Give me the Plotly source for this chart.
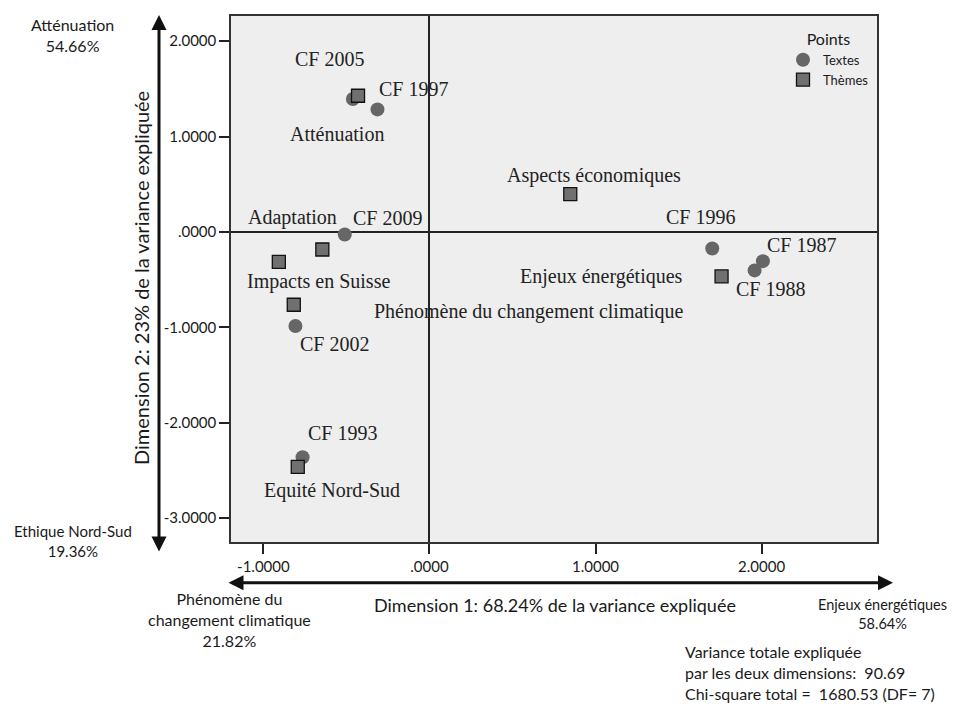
import plotly.graph_objects as go

# ── Data ──────────────────────────────────────────────────────────────────────
text_labels = ["CF 2005", "CF 1997", "CF 2009", "CF 2002", "CF 1993",
               "CF 1996", "CF 1987", "CF 1988"]
text_dim1 = [-0.461, -0.313, -0.510, -0.807, -0.764, 1.703, 2.008, 1.958]
text_dim2 = [1.394, 1.285, -0.027, -0.985, -2.362, -0.173, -0.306, -0.403]

theme_labels = ["Atténuation", "Aspects économiques", "Adaptation",
                "Impacts en Suisse", "Phénomène du changement climatique",
                "Equité Nord-Sud", "Enjeux énergétiques"]
theme_dim1 = [-0.430, 0.848, -0.645, -0.907, -0.817, -0.793, 1.759]
theme_dim2 = [1.428, 0.397, -0.184, -0.313, -0.763, -2.462, -0.466]

tick_vals_x = [-1, 0, 1, 2]
tick_text_x = ["-1.0000", ".0000", "1.0000", "2.0000"]
tick_vals_y = [2, 1, 0, -1, -2, -3]
tick_text_y = ["2.0000", "1.0000", ".0000", "-1.0000", "-2.0000", "-3.0000"]

pole_top = ["Atténuation", "54.66%"]
pole_bottom = ["Ethique Nord-Sud", "19.36%"]
pole_left = ["Phénomène du", "changement climatique", "21.82%"]
pole_right = ["Enjeux énergétiques", "58.64%"]
summary = ["Variance totale expliquée",
           "par les deux dimensions:\u00a0 90.69",
           "Chi-square total =\u00a0 1680.53 (DF= 7)"]

# label offsets in pixels (dx, dy up) relative to each point
text_offsets = [(-23, 40), (36, 20), (43, 17), (39, -18), (40, 24),
                (-12, 31), (39, 16), (16, -19)]
theme_offsets = [(-21, -38), (24, 19), (-30, 32), (40, -20), (235, -7),
                 (34, -24), (-120, 0)]

SANS = "Lato, 'Open Sans', sans-serif"
SERIF = "'Liberation Serif', 'Times New Roman', serif"
INK = "#1a1a1a"

fig = go.Figure()

fig.add_trace(go.Scatter(
    x=text_dim1, y=text_dim2, mode="markers", name="Textes",
    marker=dict(symbol="circle", size=14, color="#666666",
                line=dict(width=0)),
))
fig.add_trace(go.Scatter(
    x=theme_dim1, y=theme_dim2, mode="markers", name="Thèmes",
    marker=dict(symbol="square", size=13, color="#707070",
                line=dict(width=1.3, color="#111111")),
))

annotations = []
for lab, xv, yv, (dx, dy) in zip(text_labels, text_dim1, text_dim2, text_offsets):
    annotations.append(dict(x=xv, y=yv, text=lab, showarrow=False,
                            xshift=dx, yshift=dy,
                            font=dict(family=SERIF, size=20, color="#222222")))
for lab, xv, yv, (dx, dy) in zip(theme_labels, theme_dim1, theme_dim2, theme_offsets):
    annotations.append(dict(x=xv, y=yv, text=lab, showarrow=False,
                            xshift=dx, yshift=dy,
                            font=dict(family=SERIF, size=20, color="#222222")))

# plot area on screen: left 231, right 877, top 14, bottom 542
# (page body adds an 8 px margin, so figure coords = screen - 8)
OFF = 8
PL, PR, PT, PB = 231, 877, 14, 542
W, H = PR - PL, PB - PT


def px(x):
    return (x - PL) / W


def py(y):
    return (PB - y) / H


def text_block(lines, x, y, size, anchor="center"):
    return dict(xref="x domain", yref="y domain", xanchor=anchor,
                yanchor="middle", x=px(x), y=py(y),
                text="<br>".join(lines), showarrow=False,
                align="left" if anchor == "left" else "center",
                font=dict(family=SANS, size=size, color=INK))


ARROW = dict(xref="x domain", yref="y domain", axref="x domain", ayref="y domain",
             text="", showarrow=True, arrowhead=2, arrowside="end+start",
             arrowsize=1, arrowwidth=3, arrowcolor="#111111")

annotations += [
    dict(**ARROW, x=px(159), y=py(13), ax=px(159), ay=py(553)),
    dict(**ARROW, x=px(893), y=py(583), ax=px(227), ay=py(583)),
    text_block(pole_top, 72.5, 33, 16),
    text_block(pole_bottom, 73, 541, 15),
    text_block(pole_left, 229, 620, 16),
    text_block(pole_right, 882, 614, 14.5),
    text_block(summary, 683, 673, 16, anchor="left"),
    dict(xref="x domain", yref="y domain", xanchor="center", yanchor="middle",
         x=px(555), y=py(605), showarrow=False,
         text="Dimension 1: 68.24% de la variance expliquée",
         font=dict(family=SANS, size=18, color=INK)),
    dict(xref="x domain", yref="y domain", xanchor="center", yanchor="middle",
         x=px(141), y=py(277), textangle=-90, showarrow=False,
         text="Dimension 2: 23% de la variance expliquée",
         font=dict(family=SANS, size=20, color=INK)),
]

fig.update_layout(
    width=958, height=704,
    margin=dict(l=PL - OFF, r=958 - PR + OFF, t=PT - OFF, b=704 - PB + OFF),
    paper_bgcolor="white",
    plot_bgcolor="#eeeeee",
    showlegend=True,
    legend=dict(
        x=px(874), y=py(22), xanchor="right", yanchor="top",
        bgcolor="rgba(0,0,0,0)",
        title=dict(text="Points", side="top center",
                   font=dict(family=SANS, size=16, color=INK)),
        font=dict(family=SANS, size=13, color=INK),
        itemwidth=30, tracegroupgap=0,
    ),
    annotations=annotations,
    xaxis=dict(
        range=[-1.195, 2.695], tickvals=tick_vals_x, ticktext=tick_text_x,
        showgrid=False, zeroline=True, zerolinecolor="#222222", zerolinewidth=2,
        showline=True, linecolor="#333333", linewidth=1.5, mirror=True,
        ticks="outside", ticklen=10, tickwidth=1.5, tickcolor="#222222",
        tickfont=dict(family=SANS, size=15, color=INK),
    ),
    yaxis=dict(
        range=[-3.25, 2.264], tickvals=tick_vals_y, ticktext=tick_text_y,
        showgrid=False, zeroline=True, zerolinecolor="#222222", zerolinewidth=2,
        showline=True, linecolor="#333333", linewidth=1.5, mirror=True,
        ticks="outside", ticklen=10, tickwidth=1.5, tickcolor="#222222",
        tickfont=dict(family=SANS, size=15, color=INK),
    ),
)

fig.write_html("out.html")
